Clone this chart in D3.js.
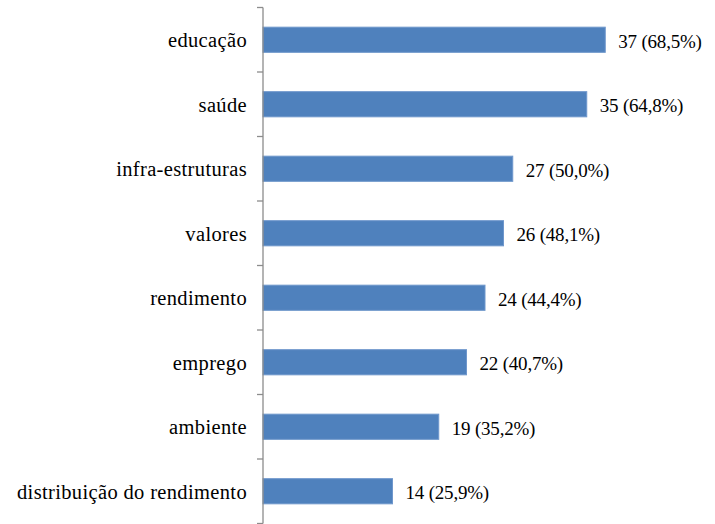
<!DOCTYPE html>
<html>
<head>
<meta charset="utf-8">
<script src="https://cdn.jsdelivr.net/npm/d3@7"></script>
</head>
<body style="margin:0">
<script>
// chart data
var categories = ["educação", "saúde", "infra-estruturas", "valores", "rendimento", "emprego", "ambiente", "distribuição do rendimento"];
var counts = [37, 35, 27, 26, 24, 22, 19, 14];
var percents = ["68,5%", "64,8%", "50,0%", "48,1%", "44,4%", "40,7%", "35,2%", "25,9%"];

var svgWidth = 715;
var svgHeight = 524;

var margin = { top: 7.5, right: 60, bottom: 0, left: 263 };
var width = 370;
var bandStep = 64.5;

var svg = d3.select("body")
    .append("svg")
    .attr("width", svgWidth)
    .attr("height", svgHeight);

var chartGroup = svg.append("g")
    .attr("transform", `translate(${margin.left}, ${margin.top})`);

var data = categories.map(function(c, i) {
    return { name: c, count: counts[i], pct: percents[i] };
});

// scales
var xScale = d3.scaleLinear()
    .domain([0, 40])
    .range([0, width]);

var yScale = d3.scaleBand()
    .domain(categories)
    .range([0, bandStep * categories.length])
    .paddingInner(0.61)
    .paddingOuter(0.305);

// bars
chartGroup.append("g").selectAll("rect")
    .data(data)
    .enter()
    .append("rect")
    .attr("x", 0)
    .attr("y", d => yScale(d.name))
    .attr("width", d => xScale(d.count))
    .attr("height", yScale.bandwidth())
    .attr("fill", "#4f81bd")
    .attr("stroke", "#6f97cc")
    .attr("stroke-width", 1);

// left axis: line plus ticks between categories
var tickPositions = d3.range(categories.length + 1).map(i => i * bandStep);

chartGroup.append("line")
    .attr("x1", 0).attr("x2", 0)
    .attr("y1", 0).attr("y2", bandStep * categories.length)
    .attr("stroke", "#8c8c8c")
    .attr("stroke-width", 1.3);

chartGroup.append("g").selectAll("line")
    .data(tickPositions)
    .enter()
    .append("line")
    .attr("x1", -6).attr("x2", 0)
    .attr("y1", d => d).attr("y2", d => d)
    .attr("stroke", "#8c8c8c")
    .attr("stroke-width", 1.3);

// category labels
chartGroup.append("g").selectAll("text")
    .data(data)
    .enter()
    .append("text")
    .attr("x", -16)
    .attr("y", d => yScale(d.name) + yScale.bandwidth() / 2 + 7.4)
    .attr("text-anchor", "end")
    .attr("font-family", "Liberation Serif")
    .attr("font-size", "20.5px")
    .attr("letter-spacing", "0.35px")
    .text(d => d.name);

// value labels
chartGroup.append("g").selectAll("text")
    .data(data)
    .enter()
    .append("text")
    .attr("x", d => xScale(d.count) + 13)
    .attr("y", d => yScale(d.name) + yScale.bandwidth() / 2 + 8)
    .attr("font-family", "Liberation Serif")
    .attr("font-size", "19px")
    .attr("letter-spacing", "-0.2px")
    .text(d => `${d.count} (${d.pct})`);
</script>
</body>
</html>
